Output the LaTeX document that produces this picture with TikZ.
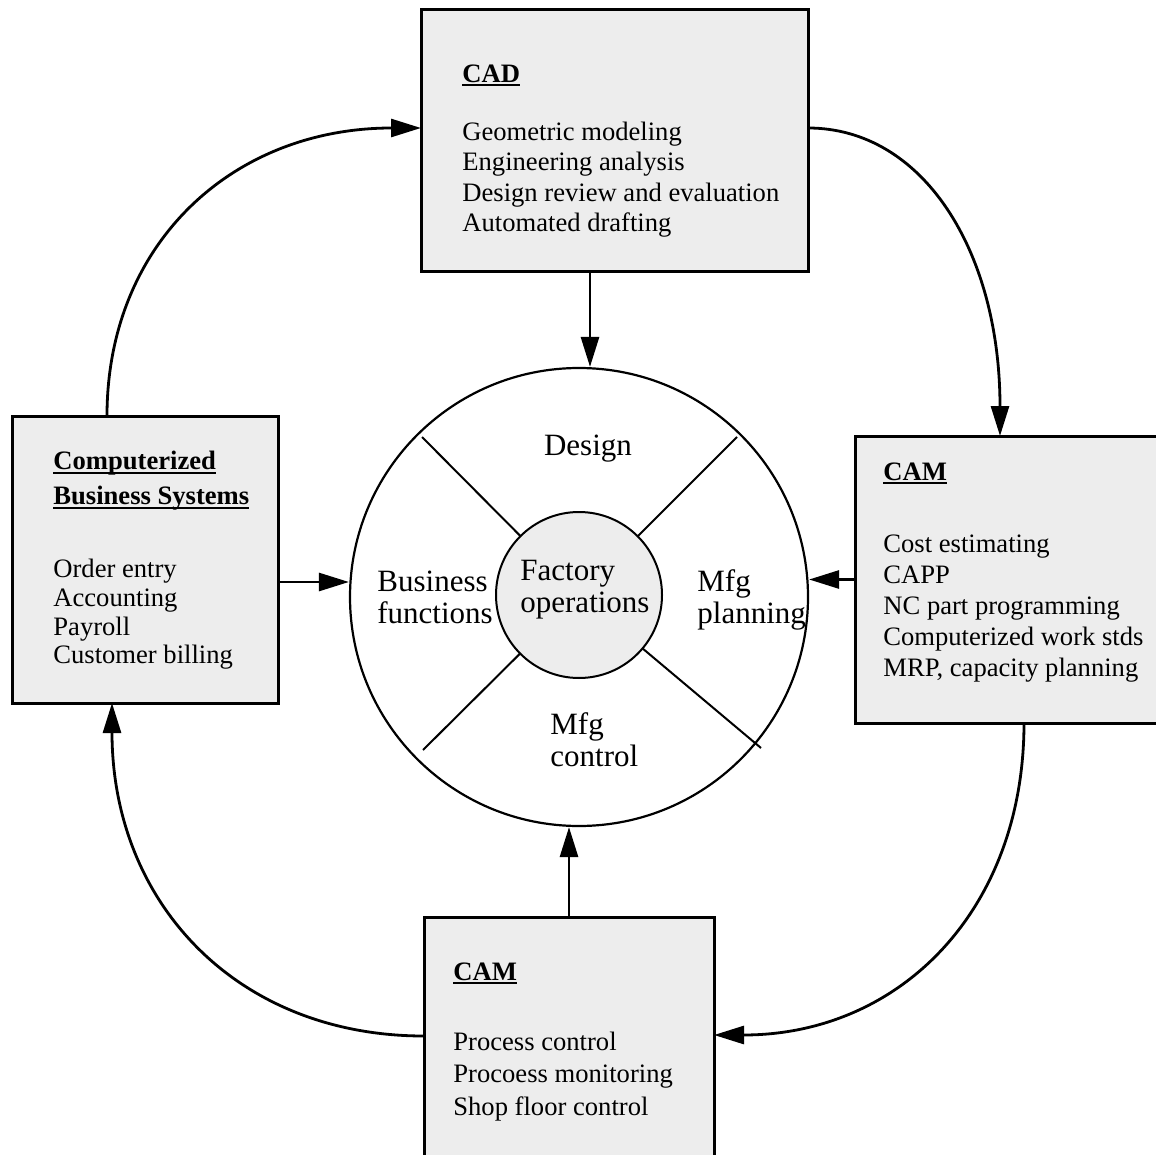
\documentclass[tikz,border=0pt]{standalone}
\usepackage{fontspec}
\setmainfont{Liberation Serif}
\usetikzlibrary{arrows.meta}
% bold heading with a heavy underline just below the baseline
\newcommand{\ulhead}[1]{\textbf{\setbox0\hbox{#1}\rlap{\rule[-2pt]{\wd0}{1.1pt}}\box0}}
\begin{document}
\begin{tikzpicture}[x=0.5pt,y=-0.5pt,
  panel/.style={draw, line width=1.5pt, fill=black!7, rectangle, inner sep=0pt, outer sep=0pt},
  paneltext/.style={anchor=north west, inner sep=0pt, align=left},
  flow/.style={line width=1.4pt, -{Triangle[length=15pt,width=9pt]}},
  spoke/.style={line width=1pt},
  sector/.style={font=\fontsize{15.5}{16}\selectfont, inner sep=0pt, align=left, anchor=north west},
]
\useasboundingbox (0,0) rectangle (1156,1155);
\fill[white] (0,0) rectangle (1156,1155);

% the wheel of factory functions
\node[circle, draw, line width=1.1pt, minimum size=229pt, inner sep=0pt] (ring) at (579,597) {};
\coordinate (ulend) at (422,437);
\coordinate (urend) at (737,437);
\coordinate (llend) at (423,750);
\coordinate (lrend) at (761,748);
\draw[spoke] (579,595) -- (ulend);
\draw[spoke] (579,595) -- (urend);
\draw[spoke] (579,595) -- (llend);
\draw[spoke] (579,595) -- (lrend);
\node[circle, draw, line width=1pt, fill=black!7, minimum size=83pt, inner sep=0pt] (core) at (579,595) {};

\node[anchor=base, font=\fontsize{15.5}{16}\selectfont, inner sep=0pt] (design) at (588,455) {Design};
\node[sector] (business) at (377,570.5) {Business\\functions};
\node[sector] (factory) at (520,559.5) {Factory\\operations};
\node[sector] (planning) at (697,569.5) {Mfg\\planning};
\node[sector] (control) at (550,712.5) {Mfg\\control};

% the four computer systems around the wheel
\node[panel, minimum width=193.5pt, minimum height=131pt] (cad) at (614.5,141) {};
\node[panel, minimum width=133pt, minimum height=143.5pt] (cbs) at (145,559.5) {};
\node[panel, minimum width=153.5pt, minimum height=143.5pt] (camr) at (1008.5,579.5) {};
\node[panel, minimum width=145pt, minimum height=124pt] (camb) at (569,1041) {};

\node[paneltext, font=\fontsize{13.3}{15.3}\selectfont] (cadtext) at (462,64)
  {\ulhead{CAD}\\[13.7pt]
   Geometric modeling\\
   Engineering analysis\\
   Design review and evaluation\\
   Automated drafting};
\node[paneltext, font=\fontsize{13.3}{14.35}\selectfont] (cbstext) at (53,451)
  {\ulhead{Computerized}\\[3.15pt]
   \ulhead{Business Systems}\\[22.15pt]
   Order entry\\
   Accounting\\
   Payroll\\
   Customer billing};
\node[paneltext, font=\fontsize{13.3}{15.6}\selectfont] (camrtext) at (883,462)
  {\ulhead{CAM}\\[20.4pt]
   Cost estimating\\
   CAPP\\
   NC part programming\\
   Computerized work stds\\
   MRP, capacity planning};
\node[paneltext, font=\fontsize{13.3}{16.4}\selectfont] (cambtext) at (453,962)
  {\ulhead{CAM}\\[18.6pt]
   Process control\\
   Procoess monitoring\\
   Shop floor control};

% connection points
\coordinate (cadfoot) at ([xshift=-12.25pt]cad.south);
\coordinate (cbsport) at ([yshift=-11.25pt]cbs.east);

% flows into the wheel
\draw[flow] (cadfoot) -- (cadfoot |- ring.north);
\draw[flow] (cbsport) -- (ring.west |- cbsport);
\draw[flow] (camr.west) -- (ring.east |- camr.west);
\draw[flow] (camb.north) -- (camb.north |- ring.south);

% the outer cycle
\draw[flow] ([xshift=-19pt]cbs.north) .. controls +(0,-173) and +(-188,0) .. ([yshift=6.5pt]cad.west);
\draw[flow] ([yshift=6.5pt]cad.east) .. controls +(115,0) and +(0,-185) .. ([xshift=-4.25pt]camr.north);
\draw[flow] ([xshift=7.75pt]camr.south) .. controls +(0,187) and +(186,0) .. ([yshift=3pt]camb.east);
\draw[flow] ([yshift=2.5pt]camb.west) .. controls +(-187,0) and +(0,200) .. ([xshift=-16.5pt]cbs.south);
\end{tikzpicture}
\end{document}
